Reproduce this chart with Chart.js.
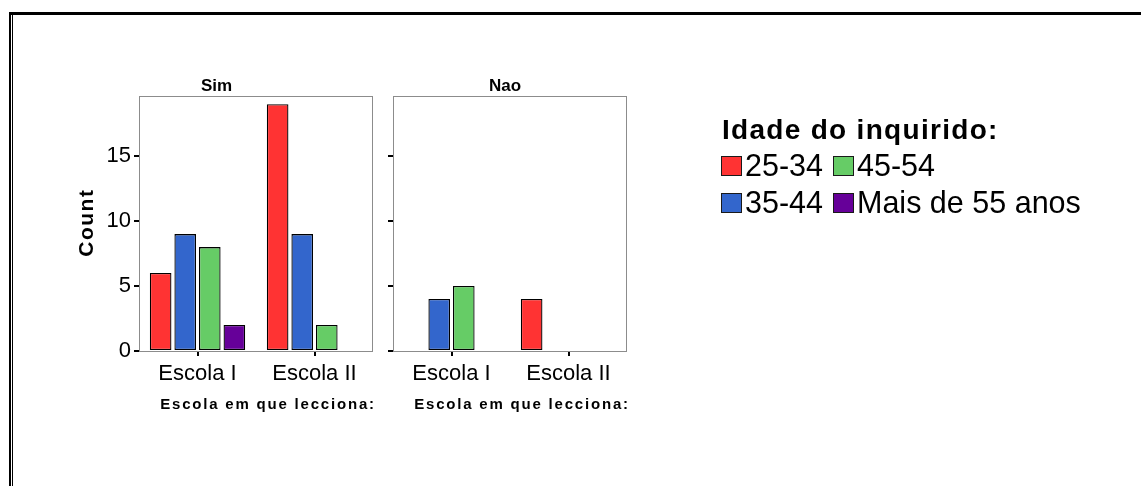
<!DOCTYPE html>
<html>
<head>
<meta charset="utf-8">
<script src="https://cdn.jsdelivr.net/npm/chart.js@4.4.1/dist/chart.umd.min.js"></script>
<style>
  body { margin: 0; background: #fff; }
  #charts { position: relative; width: 1141px; height: 486px; }
  #charts canvas { position: absolute; left: 0; top: 0; }
</style>
</head>
<body>
<div id="charts">
  <canvas class="sim-chart" width="1141" height="486"></canvas>
  <canvas class="nao-chart" width="1141" height="486"></canvas>
</div>
<script>
const categories = ["Escola I", "Escola II"];
const ageGroups = ["25-34", "35-44", "45-54", "Mais de 55 anos"];

// Sim panel, one array per age group (Escola I, Escola II)
const sim2534 = [6, 19];
const sim3544 = [9, 9];
const sim4554 = [8, 2];
const sim55 = [2, 0];

// Nao panel
const nao2534 = [0, 4];
const nao3544 = [4, 0];
const nao4554 = [5, 0];
const nao55 = [0, 0];

const yMax = 19.6;
const yStep = 5;

const ageColors = ["#ff3333", "#3366cc", "#66cc66", "#660099"];
const FONT = "'Liberation Sans', Arial, sans-serif";

Chart.defaults.font.family = FONT;
Chart.defaults.color = "#000";

const makeDatasets = (values) =>
    ageGroups.map((label, i) => ({
        label: label,
        data: values[i],
        backgroundColor: ageColors[i],
        borderColor: "#000",
        borderWidth: 1.3,
        borderSkipped: false,
        categoryPercentage: 0.84,
        barPercentage: 0.88
    }));

const yScale = (showLabels, width) => ({
    min: 0,
    max: yMax,
    border: { display: false },
    grid: { drawOnChartArea: false, tickLength: 5, color: "#000", lineWidth: 2 },
    ticks: { display: showLabels, stepSize: yStep, includeBounds: false, padding: 3, font: { size: 22 }, color: "#000" },
    afterFit: (scale) => { scale.width = width; }
});

const xScale = () => ({
    type: "category",
    offset: true,
    border: { display: false },
    grid: { offset: false, drawOnChartArea: false, tickLength: 5, color: "#000", lineWidth: 2 },
    ticks: { padding: 5, font: { size: 22 }, color: "#000", maxRotation: 0 },
    afterFit: (scale) => { scale.height = 35; }
});

// gray panel box + x axis title under each panel
const panelPlugin = {
    id: "panel",
    beforeDatasetsDraw(chart) {
        const { ctx, chartArea: a } = chart;
        ctx.save();
        ctx.strokeStyle = "#8c8c8c";
        ctx.lineWidth = 1;
        ctx.strokeRect(Math.round(a.left) + 0.5, Math.round(a.top) + 0.5,
            Math.round(a.right - a.left) - 1, Math.round(a.bottom - a.top));
        ctx.restore();
    },
    afterDraw(chart) {
        const { ctx, chartArea: a } = chart;
        ctx.save();
        ctx.font = "bold 15px " + FONT;
        ctx.letterSpacing = "1.8px";
        ctx.fillStyle = "#000";
        ctx.textBaseline = "alphabetic";
        ctx.textAlign = "left";
        const text = "Escola em que lecciona:";
        const w = ctx.measureText(text).width;
        ctx.fillText(text, (a.left + a.right) / 2 - w / 2 + 12, 409);
        ctx.restore();
    }
};

// outer frame and the y axis title
const framePlugin = {
    id: "frame",
    afterDraw(chart) {
        const { ctx, chartArea: a } = chart;
        ctx.save();
        ctx.fillStyle = "#000";
        ctx.fillRect(9, 12, 1132, 3);
        ctx.fillRect(9, 12, 2, 474);
        ctx.fillRect(12, 15, 1, 471);

        ctx.translate(87, (a.top + a.bottom) / 2);
        ctx.rotate(-Math.PI / 2);
        ctx.font = "bold 21px " + FONT;
        ctx.letterSpacing = "1.5px";
        ctx.textAlign = "center";
        ctx.textBaseline = "middle";
        ctx.fillText("Count", 1, 0);
        ctx.restore();
    }
};

// legend in two columns, drawn from the chart's datasets
const legendPlugin = {
    id: "ageLegend",
    afterDraw(chart) {
        const { ctx } = chart;
        ctx.save();
        ctx.fillStyle = "#000";
        ctx.font = "bold 28px " + FONT;
        ctx.letterSpacing = "1.3px";
        ctx.textBaseline = "alphabetic";
        ctx.fillText("Idade do inquirido:", 722, 139);
        ctx.letterSpacing = "0px";
        ctx.font = "30.5px " + FONT;
        const colX = [721, 833];
        const rowY = [156, 193];
        chart.data.datasets.forEach((ds, i) => {
            const x = colX[Math.floor(i / 2)];
            const y = rowY[i % 2];
            ctx.fillStyle = ds.backgroundColor;
            ctx.fillRect(x, y, 21, 20);
            ctx.strokeStyle = "#1a1a1a";
            ctx.lineWidth = 1;
            ctx.strokeRect(x + 0.5, y + 0.5, 20, 19);
            ctx.fillStyle = "#000";
            ctx.fillText(ds.label, x + 24, y + 20);
        });
        ctx.restore();
    }
};

const showChart = () => {
    const simChart = document.querySelector(".sim-chart");
    const naoChart = document.querySelector(".nao-chart");

    new Chart(simChart, {
        type: "bar",
        data: {
            labels: categories,
            datasets: makeDatasets([sim2534, sim3544, sim4554, sim55])
        },
        options: {
            responsive: false,
            animation: false,
            layout: { padding: { left: 60, right: 768, top: 70, bottom: 100 } },
            scales: { x: xScale(), y: yScale(true, 79) },
            plugins: {
                legend: { display: false },
                tooltip: { enabled: false },
                title: { display: true, text: "Sim", font: { size: 17, weight: "bold" }, color: "#000", padding: { top: 6, bottom: 0 } }
            }
        },
        plugins: [panelPlugin, framePlugin]
    });

    new Chart(naoChart, {
        type: "bar",
        data: {
            labels: categories,
            datasets: makeDatasets([nao2534, nao3544, nao4554, nao55])
        },
        options: {
            responsive: false,
            animation: false,
            layout: { padding: { left: 383, right: 514, top: 70, bottom: 100 } },
            scales: { x: xScale(), y: yScale(false, 10) },
            plugins: {
                legend: { display: false },
                tooltip: { enabled: false },
                title: { display: true, text: "Nao", font: { size: 17, weight: "bold" }, color: "#000", padding: { top: 6, bottom: 0 } }
            }
        },
        plugins: [panelPlugin, legendPlugin]
    });
};

showChart();
</script>
</body>
</html>
